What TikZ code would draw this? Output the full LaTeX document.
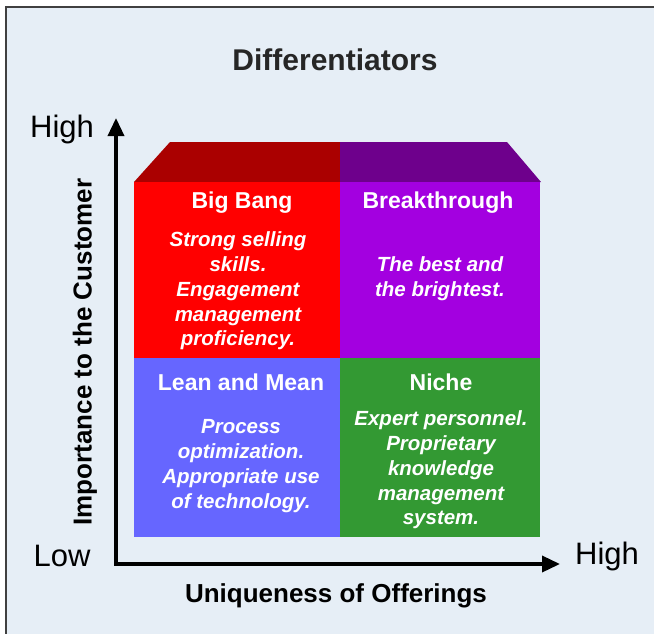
\documentclass[tikz,border=0pt]{standalone}
\usepackage{fontspec}
\setmainfont{Liberation Sans}
\usetikzlibrary{arrows.meta}
\definecolor{bgblue}{HTML}{E6EEF6}
\definecolor{bangred}{HTML}{FF0000}
\definecolor{bangdark}{HTML}{AA0000}
\definecolor{breakpurple}{HTML}{A300E0}
\definecolor{breakdark}{HTML}{6E008C}
\definecolor{leanblue}{HTML}{6666FF}
\definecolor{nichegreen}{HTML}{339933}
\tikzset{
	quadtitle/.style={text=white, font=\fontsize{23}{26}\selectfont\bfseries},
	quadtext/.style={text=white, align=center, font=\fontsize{20.5}{24.8}\selectfont\bfseries\itshape},
	axislabel/.style={font=\fontsize{31}{34}\selectfont},
	axistitle/.style={font=\fontsize{26}{30}\selectfont\bfseries},
}

\begin{document}
\begin{tikzpicture}[x=1pt, y=-1pt]
		%%%%% START %%%%%
		\useasboundingbox (0,0) rectangle (654,633);
		\fill[white] (0,0) rectangle (654,633);
		\draw[fill=bgblue, draw=black!75, line width=1.2pt] (6,7) rectangle (690,690);
		
		\node[font=\fontsize{30}{34}\selectfont\bfseries, text=black!85] (title) at (335,60) {Differentiators};
		
		% quadrants
		\fill[bangdark] (134,182) -- (170,142) -- (340,142) -- (340,182) -- cycle;
		\fill[breakdark] (340,182) -- (340,142) -- (507,142) -- (541,182) -- cycle;
		\fill[bangred] (134,182) rectangle (340,358);
		\fill[breakpurple] (340,182) rectangle (540,358);
		\fill[leanblue] (134,358) rectangle (340,537);
		\fill[nichegreen] (340,358) rectangle (540,537);
		
		\node[quadtitle] (bigbang) at (242,203) {Big Bang};
		\node[quadtext] (bigbangtext) at (238,291) {Strong selling\\skills.\\Engagement\\management\\proficiency.};
		
		\node[quadtitle] (breakthrough) at (438,203) {Breakthrough};
		\node[quadtext] (breakthroughtext) at (440,279) {The best and\\the brightest.};
		
		\node[quadtitle] (lean) at (241,382) {Lean and Mean};
		\node[quadtext] (leantext) at (241,466) {Process\\optimization.\\Appropriate use\\of technology.};
		
		\node[quadtitle] (niche) at (441,382) {Niche};
		\node[quadtext] (nichetext) at (441,470) {Expert personnel.\\Proprietary\\knowledge\\management\\system.};
		
		% axes
		\coordinate (origin) at (116,564);
		\coordinate (ytip) at (116,118);
		\coordinate (xtip) at (560,564);
		\draw[line width=3.5pt, line join=miter, {Triangle[length=18pt, width=16pt]}-{Triangle[length=18pt, width=16pt]}] (ytip) -- (origin) -- (xtip);
		
		\node[axislabel] (yhigh) at (62,129) {High};
		\node[axislabel] (ylow) at (62,556) {Low};
		\node[axislabel] (xhigh) at (607,556) {High};
		
		\node[axistitle, rotate=90] (ytitle) at (85,352) {Importance to the Customer};
		\node[axistitle] (xtitle) at (336,596) {Uniqueness of Offerings};
		%%%%% END %%%%%
	\end{tikzpicture}
\end{document}
